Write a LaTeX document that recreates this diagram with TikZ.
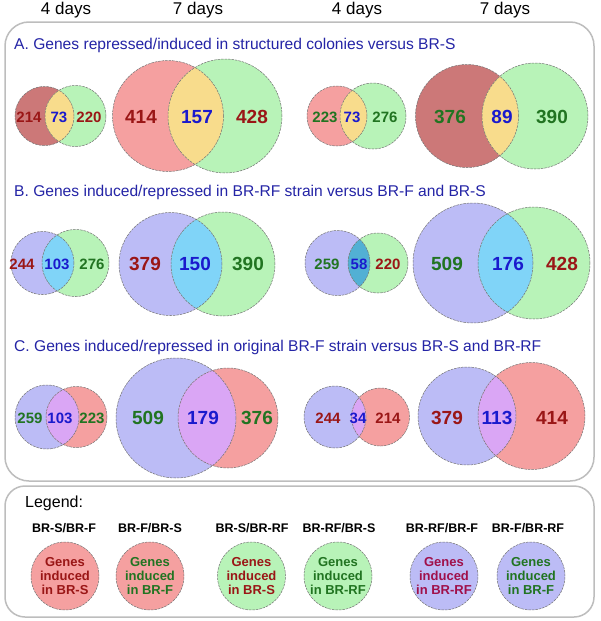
\documentclass[tikz,border=0pt]{standalone}
\usepackage{fontspec}
\setmainfont{Liberation Sans}
\definecolor{redDark}{HTML}{CC7878}
\definecolor{redLight}{HTML}{F5A0A0}
\definecolor{greenL}{HTML}{B8F3B8}
\definecolor{lav}{HTML}{BCBCF6}
\definecolor{lensY}{HTML}{F8DC8C}
\definecolor{lensC}{HTML}{80D4F8}
\definecolor{lensT}{HTML}{52B0D4}
\definecolor{lensP}{HTML}{DAA6F5}
\definecolor{numR}{HTML}{9A1616}
\definecolor{numB}{HTML}{1A1ACD}
\definecolor{numG}{HTML}{217421}
\definecolor{titleB}{HTML}{2424A6}
\definecolor{magR}{HTML}{A0104A}
\definecolor{boxG}{HTML}{BDBDBD}
\tikzset{
  vennline/.style={draw=black!55, line width=0.5pt, dash pattern=on 2.5pt off 1pt},
  snum/.style={font=\fontsize{15}{18}\selectfont\bfseries, inner sep=0pt},
  bnum/.style={font=\fontsize{19}{22}\selectfont\bfseries, inner sep=0pt},
  hdr/.style={font=\fontsize{17}{20}\selectfont, anchor=base, inner sep=0pt},
  sectitle/.style={font=\fontsize{15.6}{18}\selectfont, text=titleB, anchor=base west, inner sep=0pt},
  leglabel/.style={font=\fontsize{12.5}{15}\selectfont\bfseries, anchor=base, inner sep=0pt},
  legtext/.style={font=\fontsize{13}{14}\selectfont\bfseries, align=center, inner sep=0pt},
  boxline/.style={draw=boxG, line width=1.5pt},
}
\newcommand{\vennpair}[8]{%
  \fill[#6] (#1,#5) circle[radius=#2pt];
  \fill[#7] (#3,#5) circle[radius=#4pt];
  \begin{scope}
    \clip (#1,#5) circle[radius=#2pt];
    \fill[#8] (#3,#5) circle[radius=#4pt];
  \end{scope}
  \draw[vennline] (#1,#5) circle[radius=#2pt];
  \draw[vennline] (#3,#5) circle[radius=#4pt];
}
\begin{document}
\begin{tikzpicture}[x=1pt,y=-1pt]
\useasboundingbox (0,0) rectangle (600,621);
\fill[white] (0,0) rectangle (600,621);
% boxes
\draw[boxline, rounded corners=24pt] (5,22) rectangle (594,481);
\draw[boxline, rounded corners=20pt] (5,486) rectangle (594,617);
% headers
\node[hdr] (h1) at (66,14) {4 days};
\node[hdr] (h2) at (198,14) {7 days};
\node[hdr] (h3) at (357,14) {4 days};
\node[hdr] (h4) at (505,14) {7 days};
% section titles
\node[sectitle] (tA) at (14,49) {A. Genes repressed/induced in structured colonies versus BR-S};
\node[sectitle] (tB) at (14,196) {B. Genes induced/repressed in BR-RF strain versus BR-F and BR-S};
\node[sectitle] (tC) at (14,351) {C. Genes induced/repressed in original BR-F strain versus BR-S and BR-RF};
% Row A
\vennpair{44.5}{29.5}{75.5}{30.5}{116}{redDark}{greenL}{lensY}
\node[snum, text=numR] (a1l) at (29,117) {214};
\node[snum, text=numB] (a1m) at (59,117) {73};
\node[snum, text=numR] (a1r) at (89,117) {220};
\vennpair{168}{55.5}{225}{57}{116}{redLight}{greenL}{lensY}
\node[bnum, text=numR] (a2l) at (141,117) {414};
\node[bnum, text=numB] (a2m) at (197,117) {157};
\node[bnum, text=numR] (a2r) at (252,117) {428};
\vennpair{337}{30}{373}{33}{116}{redLight}{greenL}{lensY}
\node[snum, text=numG] (a3l) at (325,117) {223};
\node[snum, text=numB] (a3m) at (352,117) {73};
\node[snum, text=numG] (a3r) at (385,117) {276};
\vennpair{467}{51.5}{535}{53}{116}{redDark}{greenL}{lensY}
\node[bnum, text=numG] (a4l) at (450,117) {376};
\node[bnum, text=numB] (a4m) at (502,117) {89};
\node[bnum, text=numG] (a4r) at (552,117) {390};
% Row B
\vennpair{42.5}{31.5}{75.5}{33.5}{263}{lav}{greenL}{lensC}
\node[snum, text=numR] (b1l) at (22,264) {244};
\node[snum, text=numB] (b1m) at (57,264) {103};
\node[snum, text=numG] (b1r) at (92,264) {276};
\vennpair{170.5}{51.5}{223}{52}{264}{lav}{greenL}{lensC}
\node[bnum, text=numR] (b2l) at (145,264) {379};
\node[bnum, text=numB] (b2m) at (195,264) {150};
\node[bnum, text=numG] (b2r) at (248,264) {390};
\vennpair{337.5}{32.5}{378}{30}{263}{lav}{greenL}{lensT}
\node[snum, text=numG] (b3l) at (327,264) {259};
\node[snum, text=numB] (b3m) at (359,264) {58};
\node[snum, text=numR] (b3r) at (388,264) {220};
\vennpair{473}{60}{534}{56}{263}{lav}{greenL}{lensC}
\node[bnum, text=numG] (b4l) at (447,264) {509};
\node[bnum, text=numB] (b4m) at (508,264) {176};
\node[bnum, text=numR] (b4r) at (562,264) {428};
% Row C
\vennpair{47}{32}{76.5}{30.5}{417}{lav}{redLight}{lensP}
\node[snum, text=numG] (c1l) at (30,418) {259};
\node[snum, text=numB] (c1m) at (60,418) {103};
\node[snum, text=numG] (c1r) at (92,418) {223};
\vennpair{176}{60}{228}{50}{418}{lav}{redLight}{lensP}
\node[bnum, text=numG] (c2l) at (148,418) {509};
\node[bnum, text=numB] (c2m) at (203,418) {179};
\node[bnum, text=numG] (c2r) at (257,418) {376};
\vennpair{335}{31}{380.5}{29}{417}{lav}{redLight}{lensP}
\node[snum, text=numR] (c3l) at (328,418) {244};
\node[snum, text=numB] (c3m) at (358,418) {34};
\node[snum, text=numR] (c3r) at (388,418) {214};
\vennpair{467}{49}{531.5}{53.5}{416}{lav}{redLight}{lensP}
\node[bnum, text=numR] (c4l) at (447,418) {379};
\node[bnum, text=numB] (c4m) at (497,418) {113};
\node[bnum, text=numR] (c4r) at (552,418) {414};
% Legend
\node[font=\fontsize{16}{19}\selectfont, anchor=base west, inner sep=0pt] (lg) at (25,507) {Legend:};
\node[leglabel] (l1) at (64,532) {BR-S/BR-F};
\node[leglabel] (l2) at (150,532) {BR-F/BR-S};
\node[leglabel] (l3) at (252,532) {BR-S/BR-RF};
\node[leglabel] (l4) at (339,532) {BR-RF/BR-S};
\node[leglabel] (l5) at (442,532) {BR-RF/BR-F};
\node[leglabel] (l6) at (528,532) {BR-F/BR-RF};
\filldraw[fill=redLight, vennline] (65,576) circle[radius=34pt];
\filldraw[fill=redLight, vennline] (150,576) circle[radius=34pt];
\filldraw[fill=greenL, vennline] (251.5,576) circle[radius=34pt];
\filldraw[fill=greenL, vennline] (338,576) circle[radius=34pt];
\filldraw[fill=lav, vennline] (444,576) circle[radius=34pt];
\filldraw[fill=lav, vennline] (531,576) circle[radius=34pt];
\node[legtext, text=numR] (g1) at (65,576) {Genes\\induced\\in BR-S};
\node[legtext, text=numG] (g2) at (150,576) {Genes\\induced\\in BR-F};
\node[legtext, text=numR] (g3) at (251.5,576) {Genes\\induced\\in BR-S};
\node[legtext, text=numG] (g4) at (338,576) {Genes\\induced\\in BR-RF};
\node[legtext, text=magR] (g5) at (444,576) {Genes\\induced\\in BR-RF};
\node[legtext, text=numG] (g6) at (531,576) {Genes\\induced\\in BR-F};
\end{tikzpicture}
\end{document}
